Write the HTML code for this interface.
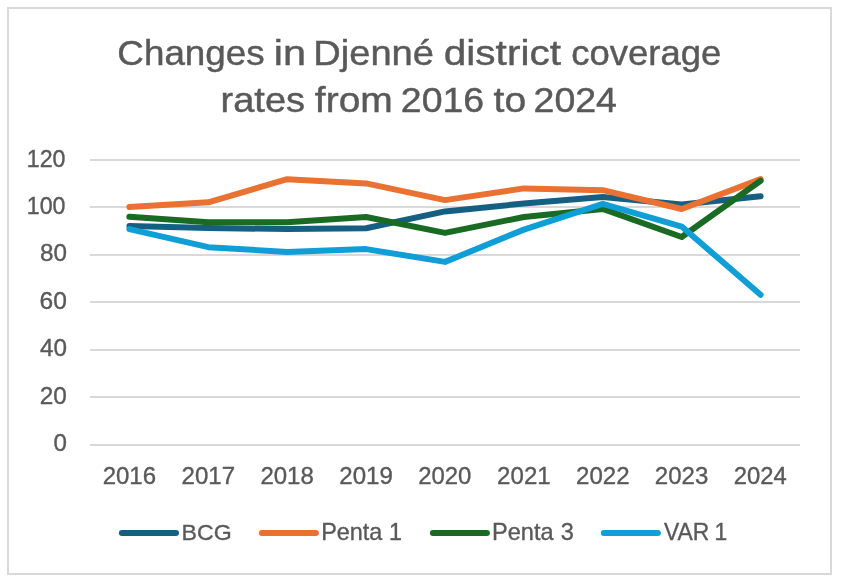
<!DOCTYPE html>
<html lang="en">
<head>
<meta charset="utf-8">
<title>Changes in Djenné district coverage rates from 2016 to 2024</title>
<style>
html,body{margin:0;padding:0;background:#fff;}
body{width:842px;height:582px;overflow:hidden;}
svg{display:block;will-change:transform;}
text{font-family:"Liberation Sans",sans-serif;fill:#595959;stroke:#595959;stroke-width:0.35;}
text.title{stroke-width:0.45;}
</style>
</head>
<body>
<svg width="842" height="582" viewBox="0 0 842 582">
<rect x="0" y="0" width="842" height="582" fill="#fff"/>
<rect x="8" y="8" width="823" height="566" fill="#fff" stroke="#D9D9D9" stroke-width="2"/>
<text class="title" y="64.5" font-size="35.6"><tspan x="117.38" textLength="147.28" lengthAdjust="spacingAndGlyphs">Changes</tspan> <tspan x="273.78" textLength="32.18" lengthAdjust="spacingAndGlyphs">in</tspan> <tspan x="313.25" textLength="120.69" lengthAdjust="spacingAndGlyphs">Djenné</tspan> <tspan x="443.78" textLength="117.18" lengthAdjust="spacingAndGlyphs">district</tspan> <tspan x="571.23" textLength="150.11" lengthAdjust="spacingAndGlyphs">coverage</tspan></text>
<text class="title" y="112.4" font-size="35.6"><tspan x="220.59" textLength="84.50" lengthAdjust="spacingAndGlyphs">rates</tspan> <tspan x="314.83" textLength="77.94" lengthAdjust="spacingAndGlyphs">from</tspan> <tspan x="400.82" textLength="83.27" lengthAdjust="spacingAndGlyphs">2016</tspan> <tspan x="493.63" textLength="32.64" lengthAdjust="spacingAndGlyphs">to</tspan> <tspan x="533.52" textLength="83.45" lengthAdjust="spacingAndGlyphs">2024</tspan></text>
<rect x="90" y="159" width="710" height="2" fill="#D9D9D9"/>
<rect x="90" y="206" width="710" height="2" fill="#D9D9D9"/>
<rect x="90" y="254" width="710" height="2" fill="#D9D9D9"/>
<rect x="90" y="301" width="710" height="2" fill="#D9D9D9"/>
<rect x="90" y="349" width="710" height="2" fill="#D9D9D9"/>
<rect x="90" y="396" width="710" height="2" fill="#D9D9D9"/>
<rect x="90" y="444" width="710" height="2" fill="#D9D9D9"/>
<text transform="translate(26.79,167.00) scale(1.0092,1)" font-size="23">120</text>
<text transform="translate(26.79,214.20) scale(1.0092,1)" font-size="23">100</text>
<text transform="translate(39.92,261.10) scale(1.0542,1)" font-size="23">80</text>
<text transform="translate(39.53,309.00) scale(1.0699,1)" font-size="23">60</text>
<text transform="translate(39.90,356.00) scale(1.0551,1)" font-size="23">40</text>
<text transform="translate(39.74,404.00) scale(1.0615,1)" font-size="23">20</text>
<text transform="translate(53.50,451.00) scale(1.0500,1)" font-size="23">0</text>
<text transform="translate(102.65,484.20) scale(1.0439,1)" font-size="23">2016</text>
<text transform="translate(181.54,484.20) scale(1.0475,1)" font-size="23">2017</text>
<text transform="translate(260.43,484.20) scale(1.0439,1)" font-size="23">2018</text>
<text transform="translate(339.31,484.20) scale(1.0475,1)" font-size="23">2019</text>
<text transform="translate(418.21,484.20) scale(1.0404,1)" font-size="23">2020</text>
<text transform="translate(497.09,484.20) scale(1.0475,1)" font-size="23">2021</text>
<text transform="translate(575.98,484.20) scale(1.0475,1)" font-size="23">2022</text>
<text transform="translate(654.87,484.20) scale(1.0439,1)" font-size="23">2023</text>
<text transform="translate(733.77,484.20) scale(1.0369,1)" font-size="23">2024</text>
<polyline points="129.4,226.0 208.3,227.9 287.2,229.1 366.1,228.2 445.0,211.4 523.9,203.5 602.8,197.0 681.7,204.4 760.6,196.3" fill="none" stroke="#156082" stroke-width="6" stroke-linecap="round" stroke-linejoin="round"/>
<polyline points="129.4,207.0 208.3,202.3 287.2,179.2 366.1,183.4 445.0,200.1 523.9,188.4 602.8,190.2 681.7,209.0 760.6,179.1" fill="none" stroke="#E97132" stroke-width="6" stroke-linecap="round" stroke-linejoin="round"/>
<polyline points="129.4,216.8 208.3,222.2 287.2,222.2 366.1,217.0 445.0,232.9 523.9,217.0 602.8,208.9 681.7,237.0 760.6,180.8" fill="none" stroke="#196B24" stroke-width="6" stroke-linecap="round" stroke-linejoin="round"/>
<polyline points="129.4,229.1 208.3,247.2 287.2,251.9 366.1,249.1 445.0,261.9 523.9,229.6 602.8,203.9 681.7,226.6 760.6,294.7" fill="none" stroke="#0F9ED5" stroke-width="6" stroke-linecap="round" stroke-linejoin="round"/>
<line x1="121.9" y1="533" x2="176" y2="533" stroke="#156082" stroke-width="6" stroke-linecap="round"/>
<text transform="translate(181.53,540) scale(1.0050,1)" font-size="23">BCG</text>
<line x1="261.9" y1="533" x2="315.9" y2="533" stroke="#E97132" stroke-width="6" stroke-linecap="round"/>
<text transform="translate(321.20,540) scale(1.0176,1)" font-size="23">Penta<tspan dx="0.20"> 1</tspan></text>
<line x1="432.9" y1="533" x2="486.9" y2="533" stroke="#196B24" stroke-width="6" stroke-linecap="round"/>
<text transform="translate(492.10,540) scale(1.0227,1)" font-size="23">Penta<tspan dx="0.69"> 3</tspan></text>
<line x1="603.8" y1="533" x2="657.9" y2="533" stroke="#0F9ED5" stroke-width="6" stroke-linecap="round"/>
<text transform="translate(663.97,540) scale(0.9948,1)" font-size="23">VAR<tspan dx="-1.25"> 1</tspan></text>
</svg>
</body>
</html>
